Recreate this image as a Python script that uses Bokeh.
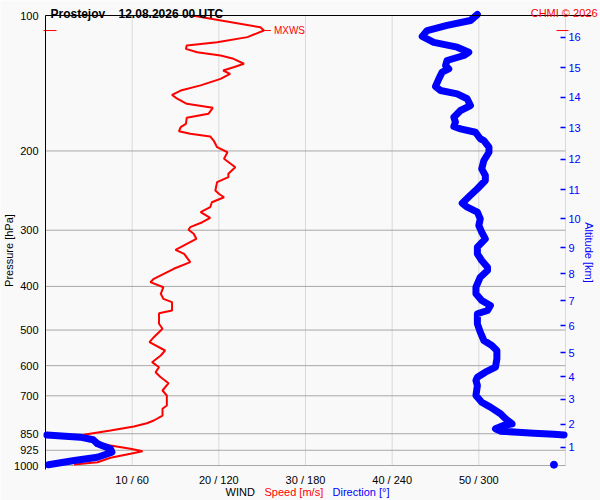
import math
import numpy as np
from bokeh.plotting import figure
from bokeh.models import Range1d, LogAxis, LinearAxis, FixedTicker, Label
from bokeh.embed import file_html
from bokeh.resources import INLINE

# ---------------- data ----------------
station = "Prostejov"
run_time = "12.08.2026 00 UTC"
copyright_text = "CHMI \u00a9 2026"

pressure_levels = [100, 200, 300, 400, 500, 600, 700, 850, 925, 1000]
speed_ticks = [10, 20, 30, 40, 50]
dir_ticks = [60, 120, 180, 240, 300]
vgrid_speed = [10, 20, 30, 40, 50, 60]

alt_km = [1, 2, 3, 4, 5, 6, 7, 8, 9, 10, 11, 12, 13, 14, 15, 16]
alt_pressure = [912.0, 810.5, 713.4, 634.2, 561.0, 488.6, 429.9, 374.5, 327.8,
                282.6, 243.6, 208.9, 177.4, 152.1, 130.5, 111.9]

# wind speed profile [m/s] vs pressure [hPa]
speed_p = [100.0, 106.2, 108.0, 111.7, 114.7, 116.6, 118.6, 120.7, 122.7, 124.8,
           128.0, 130.3, 132.5, 134.8, 138.3, 143.0, 146.8, 150.1, 153.1, 157.1,
           160.4, 165.4, 168.8, 174.1, 177.1, 180.8, 183.2, 185.7, 189.6, 196.2,
           201.3, 208.2, 217.4, 224.8, 228.7, 234.6, 244.8, 249.0, 253.4, 260.0,
           266.7, 273.6, 281.6, 288.0, 295.4, 299.4, 305.6, 313.5, 331.7, 338.5,
           353.3, 365.5, 384.7, 391.4, 401.6, 415.3, 426.2, 433.6, 452.4, 458.7,
           484.3, 496.8, 518.7, 532.1, 555.2, 569.6, 589.4, 604.7, 620.4, 636.5,
           656.3, 681.3, 698.9, 735.6, 748.2, 774.3, 794.3, 805.4, 819.1, 836.0,
           854.7, 879.9, 895.0, 902.8, 918.2, 929.4, 941.9, 961.4, 983.3, 994.9]
speed_ms = [16.9, 24.8, 25.2, 23.3, 19.8, 16.3, 16.2, 17.5, 20.2, 21.7,
            22.9, 21.7, 20.5, 21.3, 20.2, 17.9, 15.6, 14.6, 15.2, 16.3,
            19.3, 18.8, 16.3, 16.2, 15.6, 15.4, 16.7, 19.0, 19.4, 19.8,
            21.0, 20.6, 21.9, 21.1, 21.1, 19.8, 19.6, 20.0, 20.6, 19.2,
            19.0, 17.9, 19.0, 18.1, 16.7, 16.5, 17.1, 17.4, 15.0, 16.0,
            16.7, 14.8, 12.5, 12.1, 13.6, 13.3, 13.6, 14.6, 14.6, 13.1,
            13.1, 13.5, 12.5, 12.0, 13.8, 13.3, 12.3, 13.1, 12.7, 13.3,
            14.2, 13.5, 14.0, 14.0, 13.5, 13.5, 12.5, 11.7, 10.2, 7.5,
            4.4, 6.0, 6.5, 7.5, 9.8, 11.2, 9.8, 7.5, 6.0, 3.3]

# wind direction profile [deg] vs pressure [hPa] (surface upwards)
dir_p = [996.4, 974.7, 958.5, 934.2, 918.2, 902.8, 895.0, 876.8, 865.1, 856.0,
         855.0, 852.0, 847.7, 843.3, 839.0, 828.6, 814.9, 807.8, 787.3, 767.4,
         741.9, 723.3, 698.9, 664.0, 647.2, 636.5, 620.4, 604.7, 579.3, 555.2,
         541.2, 527.5, 505.6, 484.3, 460.1, 452.4, 441.0, 429.9, 415.3, 401.6,
         381.6, 368.7, 362.5, 350.3, 338.5, 327.2, 313.5, 303.0, 292.9, 283.0,
         273.6, 266.7, 261.3, 251.2, 242.7, 232.6, 226.8, 219.2, 210.0, 201.3,
         196.2, 189.6, 187.9, 181.7, 178.6, 176.5, 172.6, 168.3, 162.6, 158.5,
         153.1, 149.3, 146.8, 143.8, 138.3, 133.6, 131.4, 129.2, 125.9, 122.7,
         120.7, 117.6, 114.7, 111.3, 108.0, 105.2, 102.6, 99.5]
dir_deg = [2, 20, 36, 46, 45, 39, 36, 33, 24, 1,
           359, 352, 338, 327, 315, 311.5, 317, 323, 318.5, 315,
           308, 302, 298, 299, 298, 299, 304.5, 311.5, 312.5, 312.5,
           309, 303.5, 301, 299, 299, 306, 308, 302, 298, 298,
           301, 306, 306, 302, 299, 299, 304.5, 302, 300, 301,
           299, 292, 288.5, 294, 299, 304.5, 304.5, 302, 303.5, 307,
           307, 303.5, 301, 297.7, 287.3, 282.7, 283.8, 282.7, 287.3, 294.2,
           291.9, 285, 273.5, 270, 272.3, 274.6, 279.2, 277, 278, 289.6,
           293, 285, 268.8, 260.8, 264.2, 278, 294.2, 299]

surface_p = [996.0]
surface_dir = [352]

# ---------------- geometry / style ----------------
W, H = 600, 500
PX_L, PX_R, PX_T, PX_B = 45, 565, 15, 465      # where 0..60 m/s and 100..1000 hPa sit
SPD_MAX = 60.0
BG = "#f9f9f9"
FONT = "Liberation Sans"
RED = "#ff0000"
BLUE = "#0000ff"
BLACK = "#000000"


def X(px):
    return (px - PX_L) / (PX_R - PX_L) * SPD_MAX


def P(py):
    return 10 ** (2 + (py - PX_T) / (PX_B - PX_T))


# the frame covers the whole canvas; axes sit at fixed data locations
p = figure(width=W, height=H, x_range=Range1d(X(0), X(W)), y_range=Range1d(P(H), P(0)),
           title=None, y_axis_type="log", x_axis_location=None, y_axis_location=None,
           output_backend="svg", toolbar_location=None,
           min_border=0, min_border_left=0, min_border_right=0,
           min_border_top=0, min_border_bottom=0,
           background_fill_color=BG, border_fill_color=BG, outline_line_color=None)
p.grid.visible = False

# grid lines
p.segment(x0=vgrid_speed, y0=[pressure_levels[0]] * len(vgrid_speed),
          x1=vgrid_speed, y1=[pressure_levels[-1]] * len(vgrid_speed),
          line_color="#d9d9d9", line_width=1)
p.segment(x0=[0] * len(pressure_levels), y0=pressure_levels,
          x1=[SPD_MAX] * len(pressure_levels), y1=pressure_levels,
          line_color="#a8a8a8", line_width=1)

NO_TICKS = dict(major_tick_out=0, major_tick_in=0, minor_tick_out=0, minor_tick_in=0,
                major_tick_line_color=None, minor_tick_line_color=None)

left = LogAxis(ticker=FixedTicker(ticks=pressure_levels), fixed_location=0,
               bounds=(pressure_levels[0], P(469)),
               major_label_overrides={lv: str(lv) for lv in pressure_levels},
               axis_line_color=BLACK, major_label_standoff=7, major_label_text_font=FONT,
               major_label_text_font_size="11px", major_label_text_color=BLACK, **NO_TICKS)
p.add_layout(left, "left")

bottom = LinearAxis(ticker=FixedTicker(ticks=speed_ticks), fixed_location=pressure_levels[-1],
                    major_label_overrides={s: f"{s} / {d}" for s, d in zip(speed_ticks, dir_ticks)},
                    axis_line_color=None, major_label_standoff=8, major_label_text_font=FONT,
                    major_label_text_font_size="11px", major_label_text_color=BLACK, **NO_TICKS)
p.add_layout(bottom, "below")

top = LinearAxis(ticker=FixedTicker(ticks=[]), fixed_location=pressure_levels[0],
                 bounds=(0, X(591)), axis_line_color=BLACK, axis_line_width=1,
                 major_label_text_font_size="0px", **NO_TICKS)
p.add_layout(top, "above")

right = LogAxis(ticker=FixedTicker(ticks=alt_pressure), fixed_location=SPD_MAX,
                major_label_overrides={pv: str(k) for pv, k in zip(alt_pressure, alt_km)},
                axis_line_color=None, major_tick_in=5, major_tick_out=0,
                minor_tick_in=0, minor_tick_out=0,
                major_tick_line_color=BLUE, major_tick_line_width=1.5,
                minor_tick_line_color=None, major_label_standoff=3,
                major_label_text_font=FONT, major_label_text_font_size="11px",
                major_label_text_color=BLUE)
p.add_layout(right, "right")

# wind speed
p.line(speed_ms, speed_p, line_color=RED, line_width=2)

# wind direction (wrapped at 0/360)
xs, ys = [], []
prev = None
for pp, d in zip(dir_p, dir_deg):
    if prev is not None and abs(d - prev) > 180:
        xs.append(np.nan)
        ys.append(np.nan)
    xs.append(d / 6.0)
    ys.append(pp)
    prev = d
p.line(xs, ys, line_color=BLUE, line_width=7, line_join="round", line_cap="round")
p.scatter([d / 6.0 for d in surface_dir], surface_p, size=7, color=BLUE)

# max wind marker
imax = int(np.argmax(speed_ms))
vmax, pmax = speed_ms[imax], speed_p[imax]
p.segment(x0=[vmax], y0=[pmax], x1=[vmax + X(PX_L + 7)], y1=[pmax], line_color=RED, line_width=1)
p.segment(x0=[X(43)], y0=[pmax], x1=[X(56)], y1=[pmax], line_color=RED, line_width=1)
p.segment(x0=[X(556)], y0=[pmax], x1=[X(568)], y1=[pmax], line_color=RED, line_width=1)
p.add_layout(Label(x=vmax, y=pmax, x_offset=10, text="MXWS", text_font=FONT,
                   text_font_size="10px", text_color=RED, text_baseline="middle"))

# texts
gap = "\u00a0" * 4
p.add_layout(Label(x=X(50), y=P(13), text=f"{station}{gap}{run_time}", text_font=FONT,
                   text_font_size="12px", text_font_style="bold", text_color=BLACK,
                   text_baseline="alphabetic", text_align="left"))
p.add_layout(Label(x=X(597), y=P(12), text=copyright_text, text_font=FONT,
                   text_font_size="11px", text_color=RED,
                   text_baseline="alphabetic", text_align="right"))
p.add_layout(Label(x=X(8), y=P(250), text="Pressure [hPa]", text_font=FONT,
                   text_font_size="11px", text_color=BLACK, angle=math.pi / 2,
                   text_baseline="middle", text_align="center"))
p.add_layout(Label(x=X(588), y=P(252), text="Altitude [km]", text_font=FONT,
                   text_font_size="11px", text_color=BLUE, angle=-math.pi / 2,
                   text_baseline="middle", text_align="center"))
for txt, px, col in [("WIND", 225, BLACK), ("Speed [m/s]", 264, RED),
                     ("Direction [\u00b0]", 332, BLUE)]:
    p.add_layout(Label(x=X(px), y=P(491), text=txt, text_font=FONT, text_font_size="11px",
                       text_color=col, text_baseline="middle", text_align="left"))

open("out.html", "w").write(file_html(p, INLINE))
